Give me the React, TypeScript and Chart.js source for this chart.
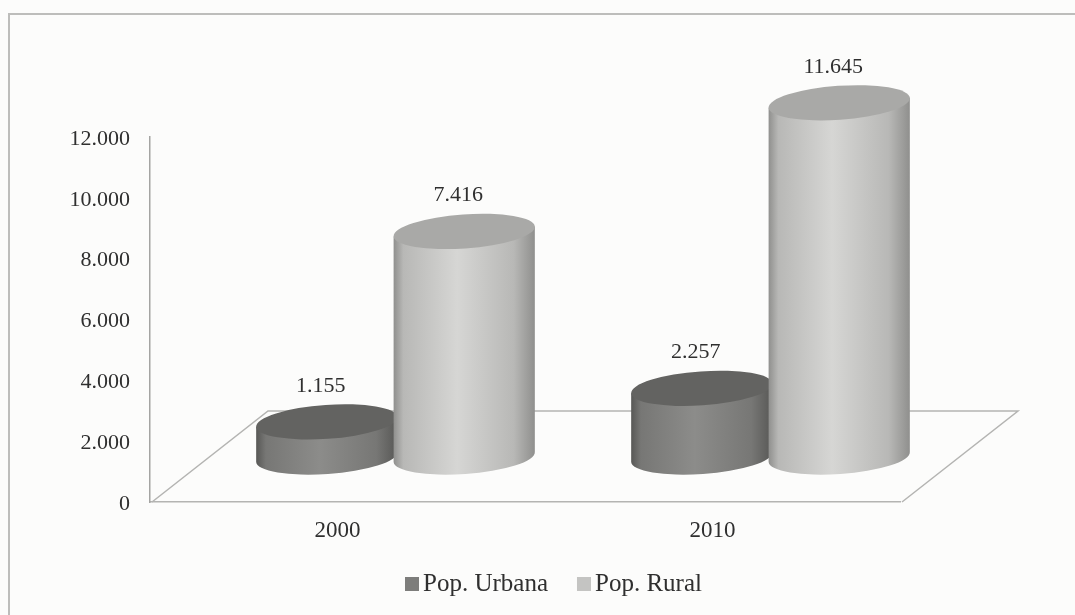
import React, { useEffect, useRef } from "react";
import { Chart, registerables } from "chart.js";

Chart.register(...registerables);

const categories = ["2000", "2010"];
const urbana = [1155, 2257];
const rural = [7416, 11645];
const seriesNames = ["Pop. Urbana", "Pop. Rural"];
const yTicks = [0, 2000, 4000, 6000, 8000, 10000, 12000];

const SERIF = '"Liberation Serif", "Times New Roman", serif';
const TEXT = "#2f2f2f";
const RULE = "#b4b4b2";
const PAPER = "#fcfcfb";

// Shift from the front plane to the middle of the floor's depth.
const DEPTH_X = 58;
const DEPTH_Y = -45;
const FLOOR_X = 116;
const FLOOR_Y = -91;
const TILT = 0.07;

const shades = [
  { edge: "#575755", soft: "#777775", mid: "#8c8c8a", top: "#636361", key: "#7d7d7b" },
  { edge: "#8f8f8d", soft: "#b8b8b6", mid: "#d6d6d4", top: "#a9a9a7", key: "#c4c4c2" },
];

const thousands = (v: number) => String(v).replace(/\B(?=(\d{3})+$)/g, ".");

const sceneBackdrop = {
  id: "sceneBackdrop",
  beforeDraw(chart: any) {
    const { ctx, width, height, chartArea: a } = chart;
    ctx.save();
    ctx.fillStyle = PAPER;
    ctx.fillRect(0, 0, width, height);

    // Chart frame: top and left edges only, running off the page.
    ctx.strokeStyle = "#bdbdbb";
    ctx.lineWidth = 2;
    ctx.beginPath();
    ctx.moveTo(9, height);
    ctx.lineTo(9, 14);
    ctx.lineTo(width, 14);
    ctx.stroke();

    // Floor of the 3D plot, running back from the category axis.
    ctx.strokeStyle = RULE;
    ctx.lineWidth = 1.5;
    ctx.beginPath();
    ctx.moveTo(a.left + 2, a.bottom);
    ctx.lineTo(a.left + 2 + FLOOR_X, a.bottom + FLOOR_Y);
    ctx.lineTo(a.right + 2 + FLOOR_X, a.bottom + FLOOR_Y);
    ctx.lineTo(a.right + 2, a.bottom);
    ctx.stroke();
    ctx.restore();
  },
};

const cylinders = {
  id: "cylinders",
  afterDatasetsDraw(chart: any) {
    const { ctx } = chart;
    chart.data.datasets.forEach((ds: any, i: number) => {
      const meta = chart.getDatasetMeta(i);
      meta.data.forEach((bar: any, j: number) => {
        const cx = bar.x + DEPTH_X;
        const topY = bar.y + DEPTH_Y;
        const baseY = bar.base + DEPTH_Y;
        const rx = bar.width / 2;
        const ry = 17;
        const tone = shades[i];
        const dx = rx * Math.cos(TILT);
        const dy = rx * Math.sin(TILT);

        const side = ctx.createLinearGradient(cx - rx, 0, cx + rx, 0);
        side.addColorStop(0, tone.edge);
        side.addColorStop(0.07, tone.soft);
        side.addColorStop(0.45, tone.mid);
        side.addColorStop(0.85, tone.soft);
        side.addColorStop(1, tone.edge);

        ctx.save();
        ctx.fillStyle = side;
        ctx.beginPath();
        ctx.moveTo(cx - dx, topY + dy);
        ctx.lineTo(cx - dx, baseY + dy);
        ctx.ellipse(cx, baseY, rx, ry, -TILT, Math.PI, 0, true);
        ctx.lineTo(cx + dx, topY - dy);
        ctx.closePath();
        ctx.fill();

        ctx.fillStyle = tone.top;
        ctx.beginPath();
        ctx.ellipse(cx, topY, rx, ry, -TILT, 0, Math.PI * 2);
        ctx.fill();

        ctx.fillStyle = TEXT;
        ctx.font = `22px ${SERIF}`;
        ctx.textAlign = "center";
        ctx.textBaseline = "middle";
        ctx.fillText(thousands(ds.data[j]), cx - 6, topY - 36);
        ctx.restore();
      });
    });
  },
};

// Legend with tight swatches, closer to its text than the built-in one allows.
const swatchLegend = {
  id: "swatchLegend",
  afterDraw(chart: any) {
    const { ctx } = chart;
    let x = 405;
    ctx.save();
    ctx.font = `25px ${SERIF}`;
    ctx.textBaseline = "middle";
    ctx.textAlign = "left";
    seriesNames.forEach((name, i) => {
      ctx.fillStyle = shades[i].key;
      ctx.fillRect(x, 577, 14, 14);
      ctx.fillStyle = TEXT;
      ctx.fillText(name, x + 18, 584);
      x += 18 + ctx.measureText(name).width + 29;
    });
    ctx.restore();
  },
};

export default function App() {
  const ref = useRef<HTMLCanvasElement>(null);

  useEffect(() => {
    const chart = new Chart(ref.current!, {
      type: "bar",
      data: {
        labels: categories,
        datasets: [
          {
            label: seriesNames[0],
            data: urbana,
            backgroundColor: "transparent",
            categoryPercentage: 0.733,
            barPercentage: 1.03,
          },
          {
            label: seriesNames[1],
            data: rural,
            backgroundColor: "transparent",
            categoryPercentage: 0.733,
            barPercentage: 1.03,
          },
        ] as any,
      },
      options: {
        responsive: false,
        animation: false,
        layout: { padding: { top: 137, bottom: 57, left: 0, right: 175 } },
        scales: {
          x: {
            grid: { display: false },
            border: { display: true, color: RULE, width: 1.5 },
            ticks: {
              color: TEXT,
              font: { family: SERIF, size: 23 },
              padding: 7,
              labelOffset: 0,
            },
            afterFit: (s: any) => {
              s.height = 56;
            },
          },
          y: {
            min: 0,
            max: 12000,
            afterBuildTicks: (s: any) => {
              s.ticks = yTicks.map((value) => ({ value }));
            },
            grid: { display: false },
            border: { display: true, color: "#a4a4a2", width: 1.5 },
            ticks: {
              color: TEXT,
              font: { family: SERIF, size: 22 },
              padding: 12,
              labelOffset: 2,
              callback: (v: any) => thousands(Number(v)),
            },
            afterFit: (s: any) => {
              s.width = 150;
            },
          },
        },
        plugins: {
          tooltip: { enabled: false },
          legend: { display: false },
        },
      },
      plugins: [sceneBackdrop, cylinders, swatchLegend],
    } as any);
    return () => chart.destroy();
  }, []);

  return (
    <div style={{ position: "fixed", left: 0, top: 0, width: 1075, height: 615 }}>
      <canvas ref={ref} width={1075} height={615} style={{ display: "block" }} />
    </div>
  );
}
